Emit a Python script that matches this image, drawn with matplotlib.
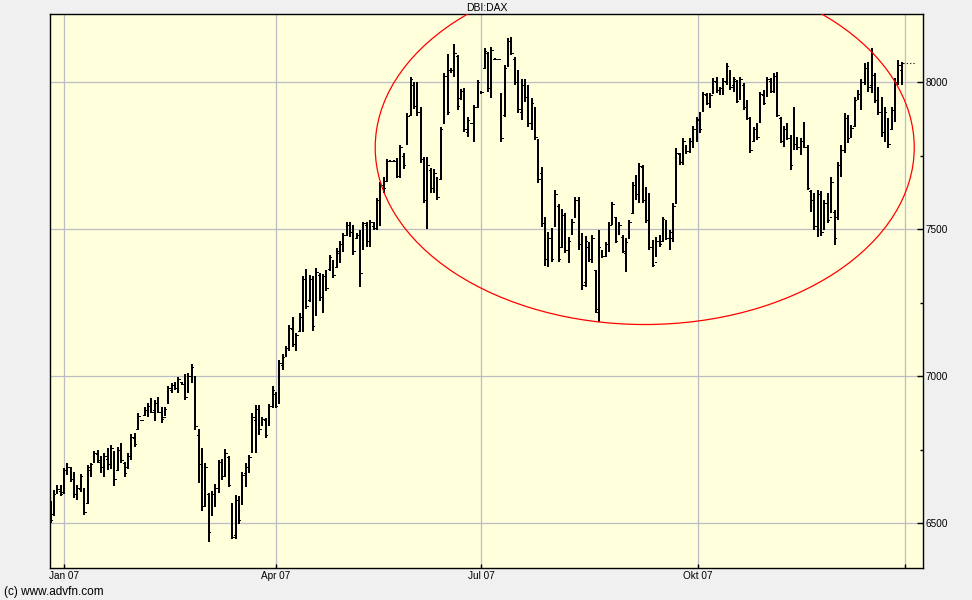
import numpy as np
import matplotlib.pyplot as plt
from matplotlib.patches import Ellipse
from matplotlib.ticker import MultipleLocator

plt.rcParams['font.family'] = ['Liberation Sans', 'DejaVu Sans']

# daily OHLC, DBI:DAX, end of Dec 2006 .. end of Dec 2007
highs = [
    6575, 6613, 6630, 6630, 6687, 6704, 6693, 6674, 6630, 6668,
    6619, 6698, 6706, 6747, 6749, 6729, 6738, 6755, 6766, 6747,
    6761, 6772, 6710, 6740, 6804, 6806, 6874, 6853, 6894, 6910,
    6927, 6919, 6931, 6894, 6897, 6967, 6978, 6981, 6999, 6982,
    7008, 7012, 7042, 7000, 6820, 6755, 6704, 6604, 6611, 6634,
    6715, 6718, 6752, 6729, 6570, 6596, 6593, 6676, 6704, 6732,
    6874, 6902, 6902, 6863, 6857, 6906, 6967, 6948, 7055, 7076,
    7103, 7174, 7200, 7148, 7214, 7341, 7364, 7345, 7341, 7367,
    7350, 7348, 7362, 7413, 7396, 7435, 7461, 7486, 7526, 7526,
    7515, 7486, 7498, 7526, 7523, 7532, 7526, 7605, 7662, 7679,
    7738, 7735, 7735, 7741, 7787, 7758, 7894, 8019, 8000, 8000,
    7917, 7747, 7747, 7707, 7704, 7679, 7849, 8030, 8096, 8047,
    8130, 8093, 7976, 7980, 7881, 7862, 7923, 8008, 7970, 8116,
    8104, 8121, 8081, 8080, 7962, 8059, 8150, 8155, 8087, 8040,
    8010, 8010, 7991, 7945, 7917, 7806, 7711, 7540, 7489, 7503,
    7634, 7586, 7568, 7554, 7475, 7534, 7611, 7608, 7486, 7477,
    7458, 7481, 7362, 7498, 7430, 7458, 7526, 7594, 7543, 7526,
    7481, 7469, 7532, 7662, 7685, 7725, 7719, 7645, 7622, 7464,
    7475, 7481, 7543, 7532, 7498, 7588, 7775, 7760, 7810, 7785,
    7810, 7850, 7883, 7900, 7968, 7962, 7962, 8013, 8019, 7985,
    8013, 8065, 8042, 8019, 8008, 8019, 7996, 7940, 7883, 7849,
    7863, 7968, 7974, 8019, 8013, 8030, 8036, 7883, 7851, 7860,
    7821, 7917, 7815, 7810, 7866, 7785, 7634, 7622, 7634, 7630,
    7600, 7622, 7679, 7566, 7730, 7787, 7897, 7889, 7855, 7951,
    7974, 8010, 8064, 8070, 8116, 8030, 7985, 7951, 7917, 7877,
    7917, 8014, 8076, 8070,
]
lows = [
    6500, 6526, 6600, 6594, 6600, 6664, 6639, 6587, 6579, 6608,
    6528, 6566, 6659, 6704, 6704, 6672, 6656, 6681, 6683, 6627,
    6679, 6704, 6656, 6683, 6715, 6758, 6817, 6849, 6865, 6863,
    6874, 6848, 6874, 6842, 6865, 6908, 6944, 6953, 6942, 6970,
    6919, 6942, 6978, 6817, 6638, 6543, 6554, 6438, 6525, 6557,
    6602, 6647, 6656, 6625, 6446, 6446, 6498, 6562, 6622, 6672,
    6740, 6740, 6800, 6831, 6789, 6831, 6891, 6891, 6908, 7021,
    7069, 7087, 7101, 7087, 7152, 7152, 7228, 7254, 7155, 7205,
    7257, 7216, 7291, 7359, 7333, 7367, 7386, 7424, 7477, 7475,
    7413, 7469, 7305, 7430, 7441, 7441, 7498, 7498, 7511, 7622,
    7662, 7731, 7731, 7673, 7673, 7704, 7787, 7889, 7908, 7886,
    7725, 7588, 7500, 7622, 7622, 7600, 7668, 7860, 7889, 8033,
    8019, 7906, 7940, 7832, 7815, 7858, 7798, 7912, 7962, 8047,
    7968, 7946, 8077, 8076, 7798, 7883, 8053, 8093, 7991, 7894,
    7872, 7934, 7849, 7838, 7804, 7656, 7509, 7375, 7373, 7390,
    7509, 7390, 7435, 7418, 7384, 7481, 7537, 7430, 7294, 7305,
    7390, 7384, 7214, 7186, 7401, 7407, 7424, 7515, 7452, 7481,
    7418, 7356, 7469, 7554, 7600, 7588, 7588, 7520, 7430, 7373,
    7407, 7441, 7458, 7464, 7430, 7458, 7588, 7719, 7719, 7755,
    7760, 7775, 7798, 7826, 7900, 7923, 7911, 7962, 7962, 7957,
    7957, 7991, 7974, 7968, 7928, 7940, 7906, 7872, 7758, 7798,
    7804, 7860, 7923, 7951, 7962, 7962, 7883, 7792, 7781, 7804,
    7702, 7770, 7770, 7753, 7775, 7634, 7560, 7498, 7475, 7478,
    7500, 7520, 7554, 7447, 7532, 7679, 7758, 7792, 7810, 7849,
    7940, 7906, 7991, 7968, 7962, 7929, 7889, 7815, 7798, 7775,
    7838, 7866, 7991, 7991,
]
opens = [
    6560, 6530, 6605, 6610, 6605, 6675, 6690, 6660, 6600, 6615,
    6615, 6570, 6680, 6710, 6735, 6715, 6680, 6720, 6700, 6740,
    6680, 6750, 6705, 6690, 6725, 6790, 6820, 6851, 6870, 6880,
    6900, 6885, 6905, 6880, 6860, 6910, 6955, 6970, 6960, 6980,
    6980, 6945, 7000, 6995, 6800, 6700, 6580, 6600, 6530, 6590,
    6620, 6700, 6670, 6725, 6560, 6460, 6580, 6570, 6670, 6690,
    6745, 6850, 6885, 6835, 6850, 6835, 6900, 6940, 6910, 7040,
    7070, 7090, 7160, 7110, 7155, 7200, 7330, 7260, 7330, 7210,
    7345, 7260, 7335, 7365, 7390, 7370, 7420, 7450, 7480, 7515,
    7495, 7470, 7480, 7440, 7515, 7460, 7510, 7505, 7600, 7650,
    7665, 7733, 7733, 7733, 7680, 7750, 7790, 7890, 7990, 7930,
    7900, 7740, 7600, 7700, 7640, 7670, 7670, 7860, 8020, 8040,
    8030, 8090, 7945, 7960, 7830, 7860, 7820, 7915, 7965, 8050,
    8100, 7960, 8079, 8078, 7950, 7890, 8060, 8140, 8080, 8000,
    7900, 7990, 7960, 7860, 7910, 7800, 7690, 7530, 7400, 7470,
    7510, 7580, 7440, 7545, 7430, 7485, 7540, 7600, 7450, 7320,
    7440, 7400, 7360, 7220, 7420, 7410, 7440, 7520, 7540, 7485,
    7475, 7420, 7470, 7555, 7650, 7620, 7710, 7610, 7540, 7440,
    7390, 7460, 7460, 7530, 7470, 7470, 7590, 7755, 7725, 7775,
    7765, 7790, 7840, 7870, 7905, 7955, 7930, 7965, 8000, 7970,
    7980, 8000, 8040, 7990, 8005, 7945, 7990, 7920, 7875, 7800,
    7840, 7865, 7955, 7955, 8005, 7970, 8030, 7880, 7800, 7835,
    7810, 7775, 7790, 7780, 7790, 7780, 7630, 7600, 7510, 7610,
    7500, 7590, 7540, 7560, 7540, 7720, 7770, 7880, 7815, 7850,
    7945, 7960, 8000, 8050, 7990, 8025, 7940, 7900, 7830, 7870,
    7840, 7900, 8000, 8040,
]
closes = [
    6510, 6600, 6615, 6600, 6680, 6690, 6650, 6600, 6620, 6660,
    6540, 6690, 6700, 6740, 6710, 6690, 6730, 6700, 6755, 6650,
    6750, 6715, 6670, 6730, 6795, 6770, 6865, 6851, 6885, 6900,
    6880, 6910, 6880, 6855, 6890, 6960, 6970, 6960, 6990, 6975,
    6930, 7000, 7030, 6830, 6700, 6560, 6690, 6470, 6600, 6620,
    6710, 6660, 6740, 6630, 6455, 6580, 6510, 6665, 6690, 6725,
    6860, 6890, 6820, 6855, 6800, 6900, 6955, 6900, 7045, 7065,
    7095, 7165, 7110, 7140, 7200, 7330, 7240, 7330, 7170, 7355,
    7270, 7340, 7300, 7405, 7345, 7425, 7450, 7480, 7515, 7490,
    7425, 7480, 7350, 7520, 7460, 7525, 7505, 7600, 7650, 7640,
    7733, 7733, 7733, 7680, 7780, 7720, 7885, 8010, 7920, 7900,
    7740, 7600, 7720, 7640, 7690, 7610, 7840, 8020, 7900, 8040,
    8100, 7920, 7970, 7840, 7870, 7860, 7915, 8000, 7966, 8105,
    7980, 8110, 8079, 8078, 7810, 8050, 8140, 8100, 8000, 7910,
    7990, 7950, 7860, 7930, 7815, 7670, 7520, 7400, 7470, 7400,
    7620, 7400, 7550, 7430, 7460, 7525, 7600, 7450, 7310, 7460,
    7400, 7470, 7230, 7440, 7410, 7450, 7515, 7585, 7460, 7515,
    7425, 7455, 7525, 7650, 7620, 7715, 7600, 7530, 7440, 7380,
    7460, 7450, 7535, 7470, 7490, 7580, 7760, 7730, 7800, 7765,
    7800, 7840, 7875, 7840, 7960, 7930, 7955, 8005, 7975, 7980,
    8005, 8055, 7985, 8010, 7935, 8010, 7915, 7880, 7770, 7840,
    7815, 7960, 7930, 8010, 7970, 8020, 7890, 7800, 7840, 7810,
    7720, 7790, 7780, 7800, 7780, 7640, 7600, 7510, 7620, 7490,
    7590, 7530, 7660, 7470, 7720, 7770, 7880, 7810, 7845, 7940,
    7960, 8000, 8050, 7985, 8100, 7940, 7900, 7830, 7900, 7790,
    7905, 8000, 8060, 8067,
]

# month gridlines (trading-day index of first session of the month)
month_pos = [4, 67, 128, 192.5, 254]
month_labels = ['Jan 07', 'Apr 07', 'Jul 07', 'Okt 07', '']
price_ticks = [6500, 7000, 7500, 8000]

# hand-drawn ellipse around the top, in data units
ell_center = (176.6, 7778)
ell_width = 160.2
ell_height = 1204

fig = plt.figure(figsize=(9.72, 6.0), dpi=100, facecolor='#f0f0f0')
ax = fig.add_axes([50 / 972, 32 / 600, 873 / 972, 554 / 600])
ax.set_facecolor('#ffffdc')

x = np.arange(len(closes))
# bars drawn crisp like the original bitmap chart
ax.vlines(x, lows, highs, color='black', lw=1.44, antialiased=False, zorder=3)
ax.hlines(opens, x - 0.45, x, color='black', lw=0.72, antialiased=False, zorder=3)
ax.hlines(closes, x, x + 0.45, color='black', lw=0.72, antialiased=False, zorder=3)

# last price marker
ax.hlines(closes[-1], x[-1] + 0.4, x[-1] + 4.2, color='black', lw=0.8,
          linestyles=(0, (1, 2)), zorder=3)

ax.add_patch(Ellipse(ell_center, ell_width, ell_height, fill=False,
                     edgecolor='red', lw=0.9, zorder=4))

ax.set_xlim(-0.15, 259.3)
ax.set_ylim(6348, 8232)

ax.set_xticks(month_pos)
ax.set_xticklabels(month_labels)
ax.set_yticks(price_ticks)
ax.yaxis.set_minor_locator(MultipleLocator(250))
ax.yaxis.tick_right()
ax.tick_params(axis='y', which='major', direction='in', length=4, width=1,
               labelsize=7.2, pad=2)
ax.tick_params(axis='y', which='minor', direction='in', length=2, width=1)
ax.tick_params(axis='x', direction='in', length=3, width=1, labelsize=7.2, pad=2)
ax.grid(True, which='major', color='#bcbcc4', lw=0.9, zorder=1)

for s in ax.spines.values():
    s.set_linewidth(1.0)
    s.set_color('black')

fig.text(486.5 / 972, 1 - 8 / 600, 'DBI:DAX', ha='center', va='center', fontsize=7.5)
fig.text(4 / 972, 1 - 592 / 600, '(c) www.advfn.com', ha='left', va='center', fontsize=8.5)

fig.savefig('out.png', dpi=100, facecolor=fig.get_facecolor())
